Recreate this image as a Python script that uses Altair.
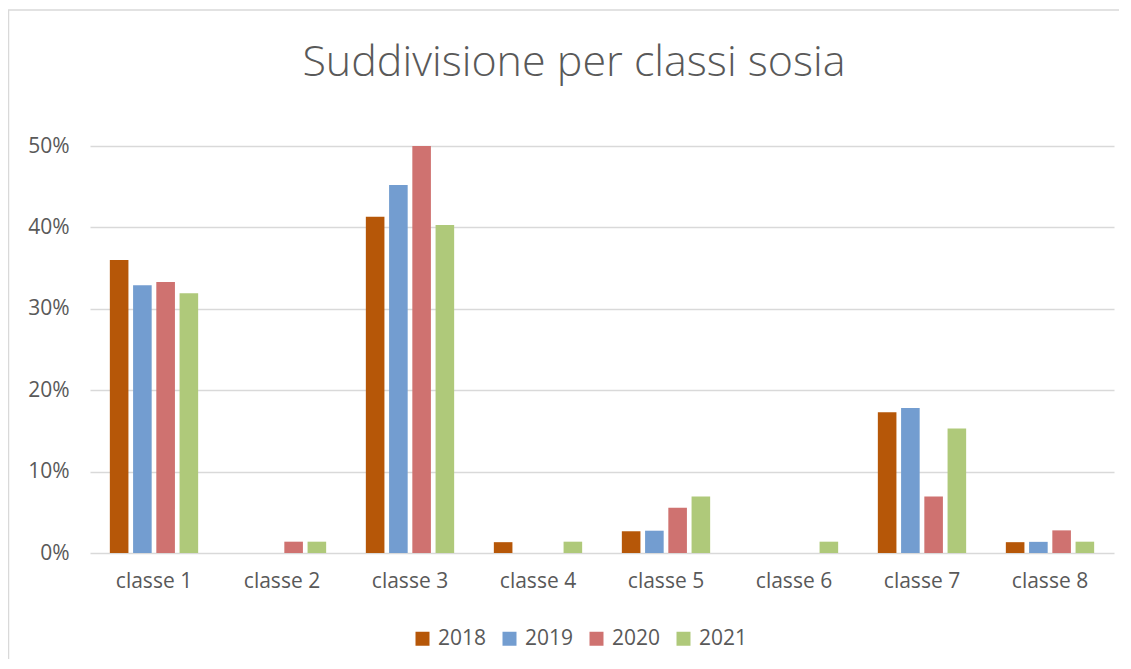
import altair as alt
import pandas as pd

categories = ["classe 1", "classe 2", "classe 3", "classe 4", "classe 5", "classe 6", "classe 7", "classe 8"]
years = ["2018", "2019", "2020", "2021"]
v2018 = [0.360, 0.0, 0.413, 0.0133, 0.0267, 0.0, 0.173, 0.0133]
v2019 = [0.329, 0.0, 0.452, 0.0, 0.0274, 0.0, 0.178, 0.0137]
v2020 = [0.333, 0.0139, 0.500, 0.0, 0.0556, 0.0, 0.0694, 0.0278]
v2021 = [0.319, 0.0139, 0.403, 0.0139, 0.0694, 0.0139, 0.153, 0.0139]
colors = ["#B65708", "#739DD0", "#CF7270", "#AFC97A"]
title_text = "Suddivisione per classi sosia"

rows = []
for yr, vals in zip(years, [v2018, v2019, v2020, v2021]):
    for c, v in zip(categories, vals):
        rows.append({"classe": c, "anno": yr, "valore": v})
df = pd.DataFrame(rows)

bars = alt.Chart(df).mark_bar().encode(
    x=alt.X("classe:N", sort=categories,
            scale=alt.Scale(paddingInner=0.31, paddingOuter=0.155),
            axis=alt.Axis(title=None, labelAngle=0, domain=False, ticks=False,
                          labelFont="Open Sans", labelFontSize=21, labelColor="#595959",
                          labelPadding=17)),
    xOffset=alt.XOffset("anno:N", sort=years,
                        scale=alt.Scale(paddingInner=0.2, paddingOuter=0)),
    y=alt.Y("valore:Q", scale=alt.Scale(domain=[0, 0.5], nice=False),
            axis=alt.Axis(title=None, format=".0%", values=[0, 0.1, 0.2, 0.3, 0.4, 0.5],
                          domain=False, ticks=False, gridColor="#D9D9D9", gridWidth=1.3,
                          labelFont="Open Sans", labelFontSize=21, labelColor="#595959",
                          labelPadding=21)),
    color=alt.Color("anno:N", sort=years,
                    scale=alt.Scale(domain=years, range=colors),
                    legend=alt.Legend(title=None, orient="none", direction="horizontal",
                                      legendX=322, legendY=482,
                                      symbolType="square", symbolSize=196, symbolStrokeWidth=0,
                                      symbolOpacity=1,
                                      labelFont="Open Sans", labelFontSize=21, labelColor="#595959",
                                      labelOffset=5, columnPadding=12)),
)

border_top = alt.Chart(alt.Data(values=[{}])).mark_rule(
    stroke="#D9D9D9", strokeWidth=1.5
).encode(x=alt.value(-82), x2=alt.value(1029), y=alt.value(-136))

border_left = alt.Chart(alt.Data(values=[{}])).mark_rule(
    stroke="#D9D9D9", strokeWidth=1.5
).encode(x=alt.value(-81.5), y=alt.value(-136), y2=alt.value(513))

title = alt.Chart(alt.Data(values=[{"t": title_text}])).mark_text(
    font="Open Sans", fontSize=43, fontWeight=300, color="#595959",
    align="center", baseline="alphabetic"
).encode(text="t:N", x=alt.value(484), y=alt.value(-70))

chart = alt.layer(border_top, border_left, bars, title).properties(
    width=1024, height=407,
    autosize=alt.AutoSizeParams(type="none"),
    padding={"left": 82, "top": 138, "right": 5, "bottom": 106},
).configure_view(stroke=None)

chart.save("out.html", embed_options={"renderer": "svg", "actions": False})
